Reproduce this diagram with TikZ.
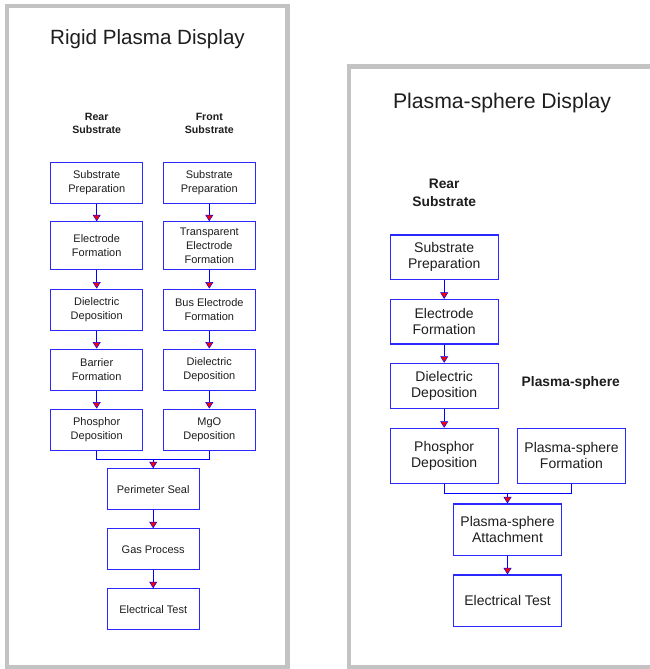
\documentclass[tikz,border=0pt]{standalone}
\usepackage{fontspec}
\setmainfont{Liberation Sans}
\usetikzlibrary{arrows.meta}
\definecolor{panelgray}{RGB}{195,195,195}
\definecolor{boxblue}{RGB}{40,40,255}
\definecolor{txt}{RGB}{30,30,30}
\begin{document}
\begin{tikzpicture}[x=1pt,y=-1pt,
  panel/.style={draw=panelgray, line width=4.3pt},
  lbox/.style={draw=boxblue, line width=1.1pt, fill=white, text=txt,
    minimum width=92pt, minimum height=41pt, inner sep=0pt, align=center,
    font=\fontsize{11}{14}\selectfont},
  rbox/.style={draw=boxblue, line width=1.1pt, fill=white, text=txt,
    minimum width=108.3pt, minimum height=44.5pt, inner sep=0pt, align=center,
    font=\fontsize{14}{16}\selectfont},
  title/.style={anchor=base, text=txt, inner sep=0pt},
  lablL/.style={anchor=base, text=txt, inner sep=0pt, font=\bfseries\fontsize{10.6}{13}\selectfont},
  lablR/.style={anchor=base, text=txt, inner sep=0pt, font=\bfseries\fontsize{13.8}{17}\selectfont},
  flow/.style={draw=blue, line width=1.1pt},
  arr/.style={flow, -{Triangle[length=6.5pt,width=8pt,fill=red,line width=0.5pt]}}
]
\useasboundingbox (0,0) rectangle (649,669);
\fill[white] (0,0) rectangle (649,669);

% panels
\draw[panel] (7.2,6.2) rectangle (287.5,667.2);
\draw[panel] (349,66.6) rectangle (680,667.4);

% ---------- left panel ----------
\node[title, font=\fontsize{20.6}{24}\selectfont] (tL) at (147.5,45) {Rigid Plasma Display};
\node[lablL] (rearL1) at (96.7,120) {Rear};
\node[lablL] (rearL2) at (96.7,133.4) {Substrate};
\node[lablL] (frontL1) at (209.3,120) {Front};
\node[lablL] (frontL2) at (209.3,133.4) {Substrate};

\node[lbox] (r1) at (96.7,182.8) {Substrate\\Preparation};
\node[lbox, minimum height=48pt] (r2) at (96.7,245.8) {Electrode\\Formation};
\node[lbox] (r3) at (96.7,309.6) {Dielectric\\Deposition};
\node[lbox] (r4) at (96.7,369.6) {Barrier\\Formation};
\node[lbox] (r5) at (96.7,429.6) {Phosphor\\Deposition};

\node[lbox] (f1) at (209.3,182.8) {Substrate\\Preparation};
\node[lbox, minimum height=48pt] (f2) at (209.3,245.8) {Transparent\\Electrode\\Formation};
\node[lbox] (f3) at (209.3,309.6) {Bus Electrode\\Formation};
\node[lbox] (f4) at (209.3,369.6) {Dielectric\\Deposition};
\node[lbox] (f5) at (209.3,429.6) {MgO\\Deposition};

\node[lbox] (ps) at (153.2,489.3) {Perimeter Seal};
\node[lbox] (gp) at (153.2,549.3) {Gas Process};
\node[lbox] (et) at (153.2,609.3) {Electrical Test};

\draw[arr] (r1) -- (r2);
\draw[arr] (r2) -- (r3);
\draw[arr] (r3) -- (r4);
\draw[arr] (r4) -- (r5);
\draw[arr] (f1) -- (f2);
\draw[arr] (f2) -- (f3);
\draw[arr] (f3) -- (f4);
\draw[arr] (f4) -- (f5);
\coordinate (mL) at (153.2,459.4);
\draw[flow] (r5.south) |- (mL) -| (f5.south);
\draw[arr] (mL) -- (ps.north);
\draw[arr] (ps) -- (gp);
\draw[arr] (gp) -- (et);

% ---------- right panel ----------
\node[title, font=\fontsize{21.2}{25}\selectfont] (tR) at (502,108.4) {Plasma-sphere Display};
\node[lablR] (rearR1) at (444.2,188.7) {Rear};
\node[lablR] (rearR2) at (444.2,206.7) {Substrate};
\node[lablR] (psL) at (570.8,386.7) {Plasma-sphere};

\node[rbox] (s1) at (444.2,257.2) {Substrate\\Preparation};
\node[rbox] (s2) at (444.2,321.7) {Electrode\\Formation};
\node[rbox, minimum height=45pt] (s3) at (444.2,385.8) {Dielectric\\Deposition};
\node[rbox, minimum height=55pt] (s4) at (444.2,455.8) {Phosphor\\Deposition};
\node[rbox, minimum height=55pt] (pf) at (571.5,455.8) {Plasma-sphere\\Formation};
\node[rbox, minimum height=51.7pt] (pa) at (507.5,529.8) {Plasma-sphere\\Attachment};
\node[rbox, minimum height=51.7pt] (et2) at (507.5,600.8) {Electrical Test};

\draw[arr] (s1) -- (s2);
\draw[arr] (s2) -- (s3);
\draw[arr] (s3) -- (s4);
\coordinate (mR) at (507.5,493.7);
\draw[flow] (s4.south) |- (mR) -| (pf.south);
\draw[arr] (mR) -- (pa.north);
\draw[arr] (pa) -- (et2);
\end{tikzpicture}
\end{document}
